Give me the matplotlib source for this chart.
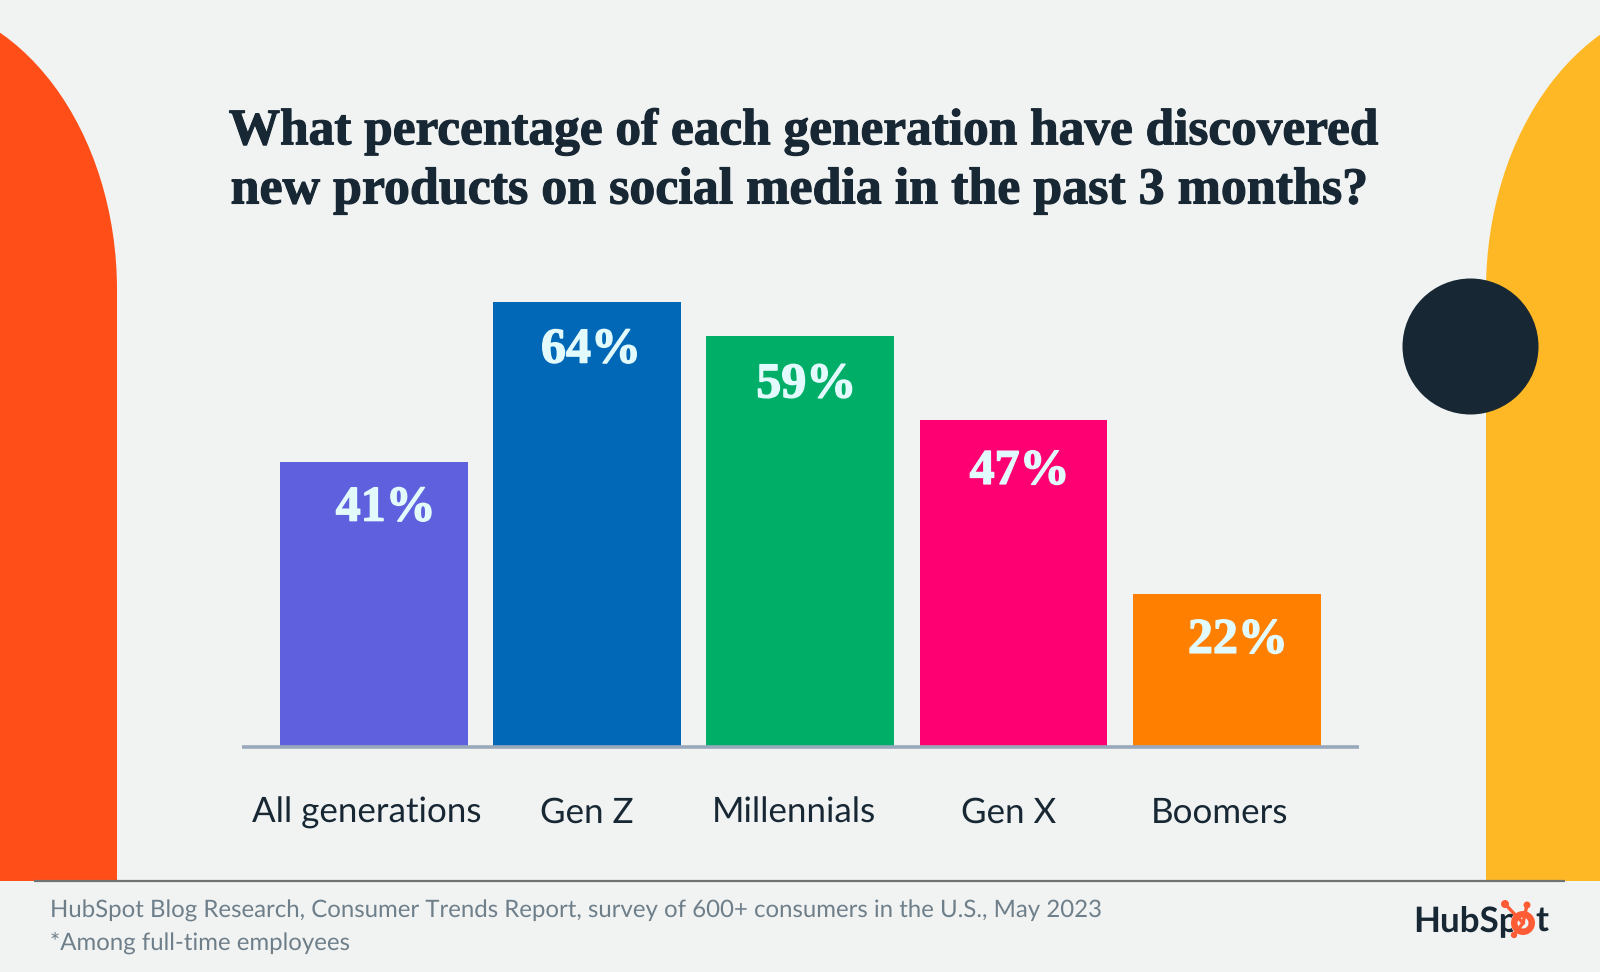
import matplotlib
matplotlib.use("Agg")
import matplotlib.pyplot as plt
import matplotlib.patheffects as pe
import numpy as np
from matplotlib.patches import Ellipse, Rectangle, Circle, Wedge

plt.rcParams["text.hinting"] = "no_hinting"
plt.rcParams["text.hinting_factor"] = 1

categories = ["All generations", "Gen Z", "Millennials", "Gen X", "Boomers"]
values = [41, 64, 59, 47, 22]
bar_colors = ["#5E60DE", "#0068B7", "#00AE68", "#FF0073", "#FF8000"]
value_labels = ["41%", "64%", "59%", "47%", "22%"]
title_lines = ["What percentage of each generation have discovered",
               "new products on social media in the past 3 months?"]
footer_lines = ["HubSpot Blog Research, Consumer Trends Report, survey of 600+ consumers in the U.S., May 2023",
                "*Among full-time employees"]
value_shift_px = [12, 4, 6, 6, 11]
value_drop_px = [47, 49, 49, 52, 47]
cat_center_px = [367, 587, 794, 1009, 1220]

W, H = 1600, 972
BG = "#F1F3F3"; INK = "#172733"
fig = plt.figure(figsize=(W/100, H/100), dpi=100, facecolor=BG)

# decoration layer in pixel coordinates
deco = fig.add_axes([0, 0, 1, 1], zorder=0)
deco.set_xlim(0, W); deco.set_ylim(H, 0); deco.axis("off")
ARCH_TOP, ARCH_BOTTOM = 290, 881
for cx, x0, x1, col in [(-100, 0, 117, "#FF4E18"), (1703, 1486, 1600, "#FFB825")]:
    clip = Rectangle((x0, 0), x1 - x0, ARCH_BOTTOM, transform=deco.transData)
    e = Ellipse((cx, ARCH_TOP), 434, 580, fc=col, ec="none", zorder=1)
    deco.add_patch(e); e.set_clip_path(clip)
    deco.add_patch(Rectangle((x0, ARCH_TOP), x1 - x0, ARCH_BOTTOM - ARCH_TOP, fc=col, ec="none", zorder=1))
deco.add_patch(Circle((1470.5, 346.5), 68, fc=INK, ec="none", zorder=2))
deco.plot([34, 1565], [881, 881], color="#6F7372", lw=1.6, zorder=3, solid_capstyle="butt")

for line, y, fs in zip(title_lines, [132, 191], [36.95, 37.4]):
    deco.text(800, y, line, ha="center", va="center", fontsize=fs, fontweight="bold",
              family="Liberation Serif", color=INK,
              path_effects=[pe.withStroke(linewidth=0.8, foreground=INK)])
for line, y in zip(footer_lines, [911, 943]):
    deco.text(50, y, line, ha="left", va="center", fontsize=17.2, family="Lato", color="#6E7F8A")
for c, cx in zip(categories, cat_center_px):
    deco.text(cx, 813, c, ha="center", va="center", fontsize=25.4, family="Lato", color=INK)

# logo
deco.text(1413, 921, "HubSp", ha="left", va="center", fontsize=25.5, fontweight="bold", family="Lato", color=INK)
deco.text(1535, 921, "t", ha="left", va="center", fontsize=25.5, fontweight="bold", family="Lato", color=INK)
OR = "#FF5C35"
HUB = (1523, 923)
deco.add_patch(Circle(HUB, 12.5, fc=BG, ec="none", zorder=4))
deco.add_patch(Wedge(HUB, 12, 0, 360, width=6.5, fc=OR, ec="none", zorder=5))
for (px, py), r in [((1505, 904), 4), ((1527, 905), 3.5), ((1514, 935), 3.2)]:
    deco.plot([px, HUB[0]], [py, HUB[1]], color=OR, lw=2.4, zorder=4)
    deco.add_patch(Circle((px, py), r, fc=OR, ec="none", zorder=5))

# chart layer
x = np.arange(len(values))
PITCH = 213.3; BAR_W = 187.7; X0 = 373.7; Y0 = 747; PX_UNIT = 6.96
ax_l, ax_r, ax_top = 242, 1359, 250
ax = fig.add_axes([ax_l/W, 1 - Y0/H, (ax_r-ax_l)/W, (Y0-ax_top)/H], zorder=2)
ax.patch.set_alpha(0)
ax.set_xlim((ax_l - X0)/PITCH, (ax_r - X0)/PITCH)
ax.set_ylim(0, (Y0-ax_top)/PX_UNIT)
ax.bar(x, values, width=BAR_W/PITCH, color=bar_colors, zorder=2)
for s in ["top", "left", "right"]:
    ax.spines[s].set_visible(False)
ax.spines["bottom"].set_color("#99A9BB"); ax.spines["bottom"].set_linewidth(2.6)
ax.spines["bottom"].set_capstyle("butt")
ax.set_xticks([]); ax.set_yticks([])
for xi, v, lab, sh, dr in zip(x, values, value_labels, value_shift_px, value_drop_px):
    ax.annotate(lab, (xi, v), xytext=(sh*0.72, -dr*0.72), textcoords="offset points",
                ha="center", va="center", fontsize=36, fontweight="bold",
                family="Liberation Serif", color="#E2FAFC", zorder=3,
                path_effects=[pe.withStroke(linewidth=1.0, foreground="#E2FAFC")])
fig.savefig("out.png", dpi=100, facecolor=BG)
